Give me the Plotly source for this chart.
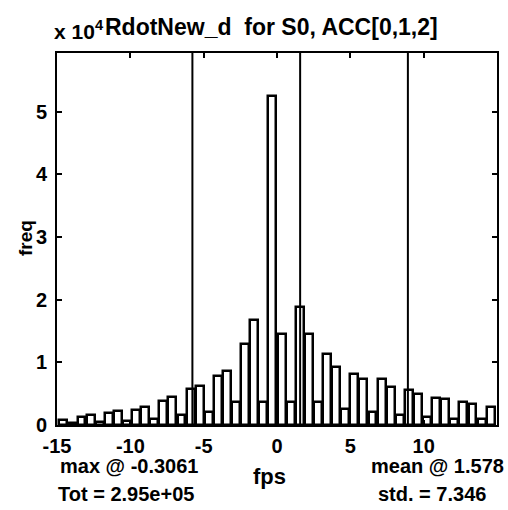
import plotly.graph_objects as go

# histogram bin centres (fps)
bin_centers = [-14.57, -13.95, -13.33, -12.71, -12.09, -11.47, -10.85, -10.23,
               -9.61, -8.99, -8.37, -7.75, -7.13, -6.51, -5.89, -5.27,
               -4.65, -4.03, -3.41, -2.79, -2.17, -1.55, -0.93, -0.31,
               0.31, 0.93, 1.55, 2.17, 2.79, 3.41, 4.03, 4.65,
               5.27, 5.89, 6.51, 7.13, 7.75, 8.37, 8.99, 9.61,
               10.23, 10.85, 11.47, 12.09, 12.71, 13.33, 13.95, 14.57]
# counts (x 10^4)
freq = [0.08, 0.03, 0.12, 0.16, 0.04, 0.19, 0.22, 0.06,
        0.24, 0.29, 0.10, 0.38, 0.44, 0.16, 0.57, 0.62,
        0.20, 0.78, 0.87, 0.37, 1.29, 1.68, 0.37, 5.25,
        1.46, 0.37, 1.88, 1.46, 0.37, 1.14, 0.92, 0.25,
        0.81, 0.73, 0.20, 0.73, 0.60, 0.16, 0.56, 0.49,
        0.12, 0.43, 0.41, 0.10, 0.37, 0.33, 0.10, 0.29]

mean_val = 1.578
std_val = 7.346
max_at = -0.3061
total = "2.95e+05"
ref_lines = [mean_val - std_val, mean_val, mean_val + std_val]

x_ticks = [-15, -10, -5, 0, 5, 10]
y_ticks = [0, 1, 2, 3, 4, 5]

FONT = "Liberation Sans, Arial, Helvetica, sans-serif"

fig = go.Figure()
fig.add_trace(go.Bar(
    x=bin_centers, y=freq, width=0.54,
    marker=dict(color="white", line=dict(color="black", width=2.5)),
    showlegend=False,
))

for xv in ref_lines:
    fig.add_shape(type="line", x0=xv, x1=xv, y0=0, y1=1, xref="x", yref="paper",
                  line=dict(color="black", width=2), layer="above")

axis_common = dict(showline=True, linecolor="black", linewidth=2, mirror="allticks",
                   ticks="inside", ticklen=5, tickwidth=2, tickcolor="black",
                   showgrid=False, zeroline=False, automargin=False,
                   tickfont=dict(family=FONT, size=20, color="black", weight="bold"))

fig.update_xaxes(range=[-15, 15], tickvals=x_ticks, ticktext=[str(v) for v in x_ticks],
                 ticklabelstandoff=2, **axis_common)
fig.update_yaxes(range=[0, 5.94], tickvals=y_ticks, ticktext=[str(v) for v in y_ticks],
                 ticklabelstandoff=4, **axis_common)

def px(x):
    return (x - 57) / 440

def py(y):
    return (425 - y) / 372

def txt(text, x, y, xanchor="center", size=20, angle=0):
    fig.add_annotation(text=text, x=px(x), y=py(y), xref="paper", yref="paper",
                       xanchor=xanchor, yanchor="middle", showarrow=False,
                       textangle=angle,
                       font=dict(family=FONT, size=size, color="black", weight="bold"))

txt("x 10<sup>4</sup>", 52, 30, xanchor="left", size=21)
txt("RdotNew_d  for S0, ACC[0,1,2]", 271, 27, size=23)
txt("freq", 25, 238, size=19, angle=-90)
txt(f"max @ {max_at}", 58, 466, xanchor="left")
txt(f"Tot = {total}", 56, 494, xanchor="left")
txt("fps", 269, 477, size=22)
txt(f"mean @ {mean_val}", 506, 466, xanchor="right")
txt(f"std. = {std_val}", 488, 494, xanchor="right")

fig.update_layout(
    width=508, height=510,
    margin=dict(l=57, r=11, t=53, b=85),
    paper_bgcolor="white", plot_bgcolor="white",
    bargap=0,
)

fig.write_html("out.html", config={"displayModeBar": False},
               post_script="document.body.style.margin='0';document.body.style.overflow='hidden';")
